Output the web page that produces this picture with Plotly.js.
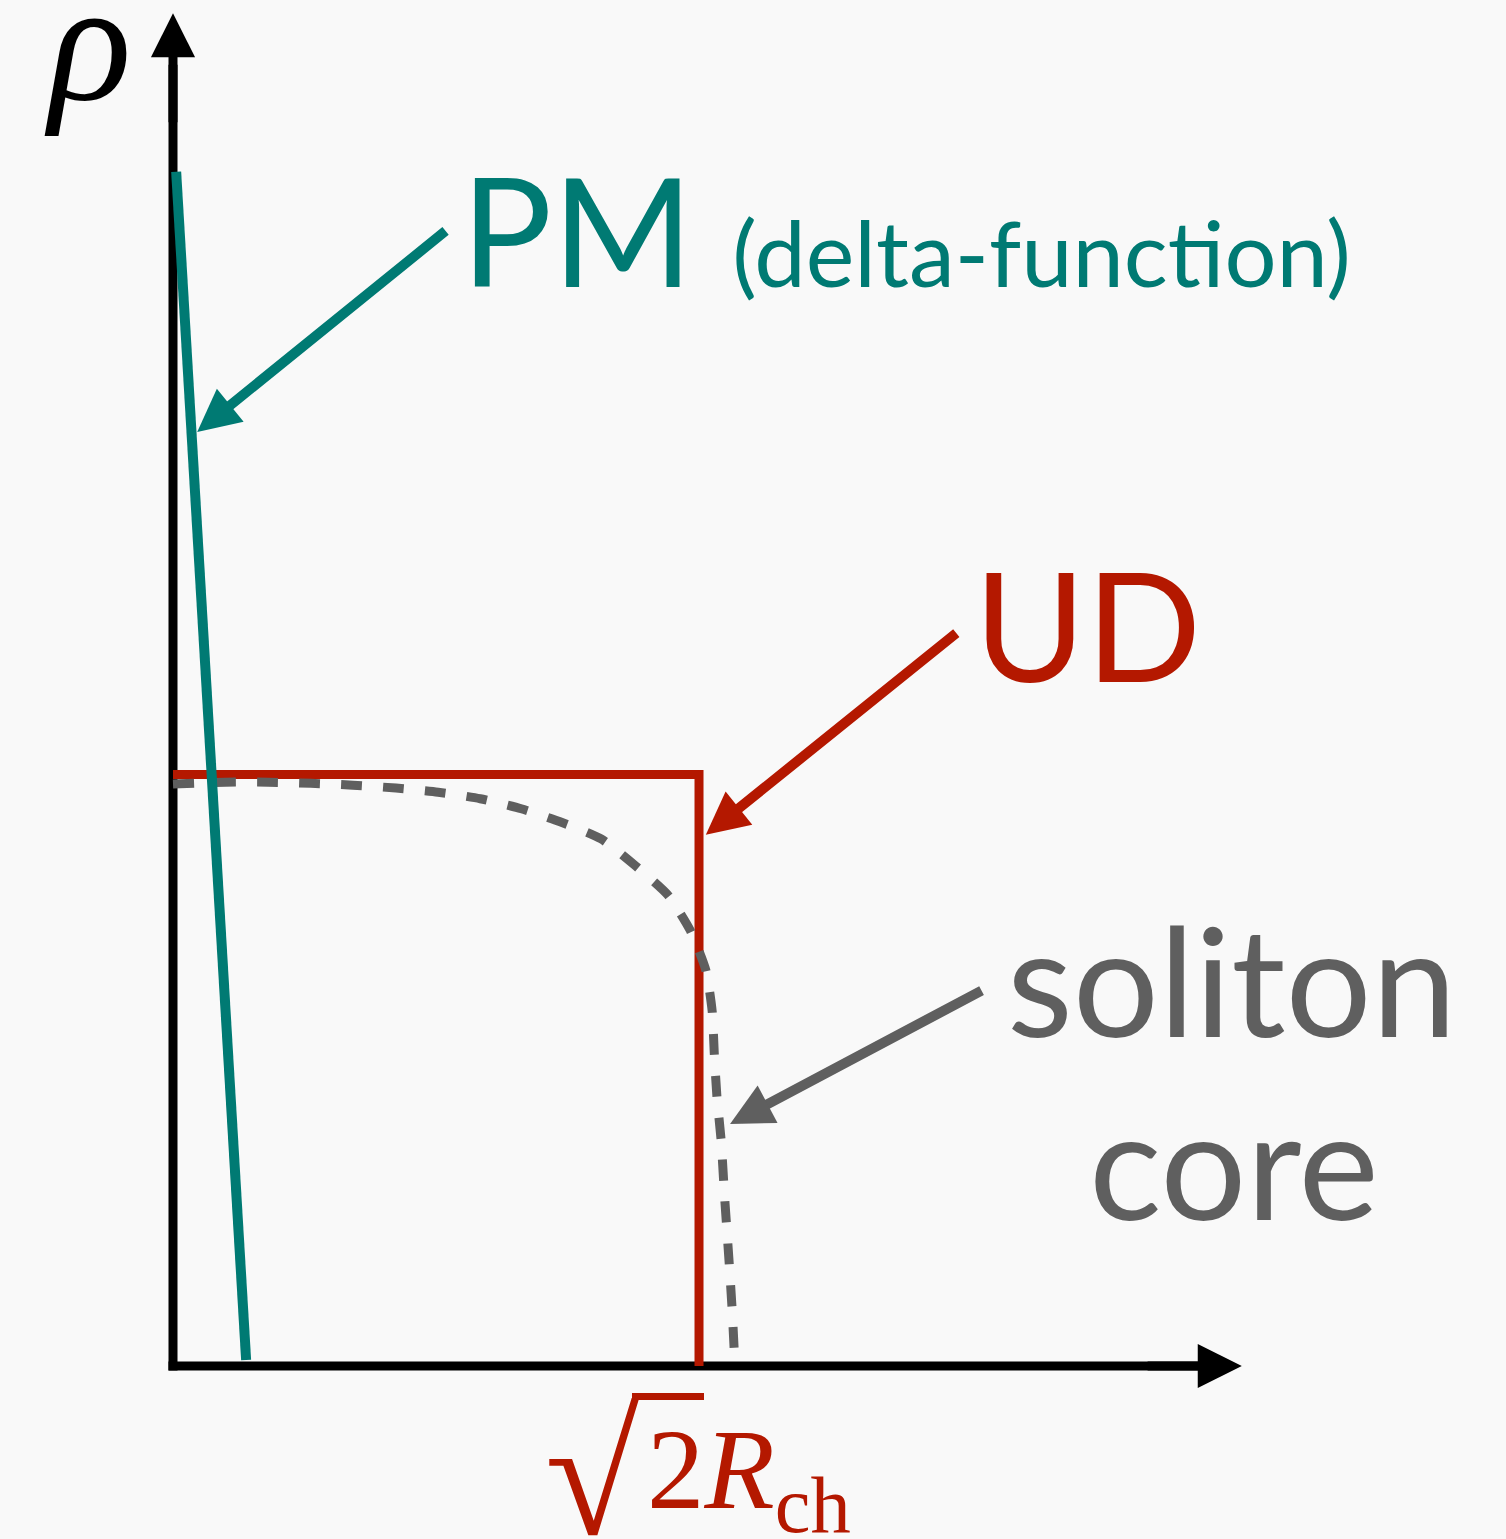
<!DOCTYPE html>
<html>
<head>
<meta charset="utf-8">
<script src="https://cdn.plot.ly/plotly-3.0.1.min.js"></script>
<style>
  html, body { margin: 0; padding: 0; background: #f9f9f9; }
</style>
</head>
<body>
<div id="chart" style="width:1506px;height:1539px;"></div>
<script>
// x in units of sqrt(2) R_ch, y in units of the uniform-disk density
const udX = [0, 1, 1];
const udY = [1, 1, 0];

// point mass drawn as a very narrow spike
const pmX = [0.006, 0.139];
const pmY = [2.019, 0.010];

// soliton core profile
const solitonX = [0, 0.099, 0.181, 0.262, 0.342, 0.424, 0.504, 0.584, 0.662, 0.736, 0.814,
  0.880, 0.941, 0.983, 1.013, 1.025, 1.029, 1.034, 1.042, 1.049, 1.057, 1.063, 1.068];
const solitonY = [0.984, 0.987, 0.987, 0.985, 0.982, 0.977, 0.970, 0.959, 0.942, 0.920, 0.891,
  0.845, 0.796, 0.737, 0.669, 0.600, 0.529, 0.456, 0.382, 0.281, 0.179, 0.095, 0.007];

const TEAL = '#007a73';
const RED = '#b41800';
const GREY = '#5f5f5f';
const SANS = 'Lato, "Open Sans", sans-serif';
const SERIF = '"Liberation Serif", "DejaVu Serif", serif';

const udTrace = {
  x: udX, y: udY,
  type: 'scatter', mode: 'lines',
  line: { color: RED, width: 9 },
  hoverinfo: 'skip'
};
const solitonTrace = {
  x: solitonX, y: solitonY,
  type: 'scatter', mode: 'lines',
  line: { color: GREY, width: 9, dash: '21px,21px', shape: 'spline', smoothing: 0.6 },
  hoverinfo: 'skip'
};
const pmTrace = {
  x: pmX, y: pmY,
  type: 'scatter', mode: 'lines',
  line: { color: TEAL, width: 10 },
  hoverinfo: 'skip'
};

/**
 * arrow-only annotation from (ax, ay) to (x, y), both in data units
 **/
function arrow(ax, ay, x, y, color, width, size) {
  return {
    xref: 'x', yref: 'y', axref: 'x', ayref: 'y',
    x: x, y: y, ax: ax, ay: ay,
    text: '',
    showarrow: true,
    arrowhead: 2,
    arrowsize: size,
    arrowwidth: width,
    arrowcolor: color
  };
}

function label(text, x, y, color, size, family, xanchor) {
  return {
    xref: 'x', yref: 'y',
    x: x, y: y,
    text: text,
    showarrow: false,
    xanchor: xanchor || 'center',
    yanchor: 'middle',
    font: { color: color, size: size, family: family || SANS }
  };
}

const annotations = [
  // axis heads
  arrow(0, 2.10, 0, 2.287, '#000000', 9, 0.98),
  arrow(1.85, 0, 2.032, 0, '#000000', 9, 0.98),
  // pointers
  arrow(0.521, 1.921, 0.046, 1.579, TEAL, 10, 0.85),
  arrow(1.492, 1.241, 1.013, 0.898, RED, 10, 0.85),
  arrow(1.540, 0.636, 1.059, 0.409, GREY, 10, 0.85),
  // texts
  label('PM <span style="font-size:92px">(delta-function)</span>', 0.544, 1.924, TEAL, 152, SANS, 'left'),
  label('UD', 1.519, 1.256, RED, 152, SANS, 'left'),
  label('soliton', 2.012, 0.656, GREY, 152),
  label('core', 2.018, 0.3466, GREY, 152),
  label('<i>ρ</i>', -0.1616, 2.240, '#000000', 172, SERIF),
  label('√', 0.797, -0.186, RED, 172, SERIF),
  label('2<i>R</i><sub>ch</sub>', 0.897, -0.1877, RED, 115, SERIF, 'left')
];

const shapes = [
  { type: 'line', xref: 'x', yref: 'y', x0: 0, x1: 0, y0: -0.0076, y1: 2.2, layer: 'below',
    line: { color: '#000000', width: 9 } },
  { type: 'line', xref: 'x', yref: 'y', x0: -0.0086, x1: 1.95, y0: 0, y1: 0, layer: 'below',
    line: { color: '#000000', width: 9 } },
  // vinculum of the square root
  { type: 'line', xref: 'x', yref: 'y', x0: 0.8726, x1: 1.0095, y0: -0.0516, y1: -0.0516,
    line: { color: RED, width: 7 } }
];

const layout = {
  width: 1506,
  height: 1539,
  margin: { l: 0, r: 0, t: 0, b: 0 },
  paper_bgcolor: '#f9f9f9',
  plot_bgcolor: '#f9f9f9',
  showlegend: false,
  xaxis: { range: [-0.3289, 2.5342], visible: false, fixedrange: true },
  yaxis: { range: [-0.2925, 2.3094], visible: false, fixedrange: true },
  shapes: shapes,
  annotations: annotations
};

Plotly.newPlot('chart', [udTrace, solitonTrace, pmTrace], layout, { displayModeBar: false, staticPlot: true });
</script>
</body>
</html>
